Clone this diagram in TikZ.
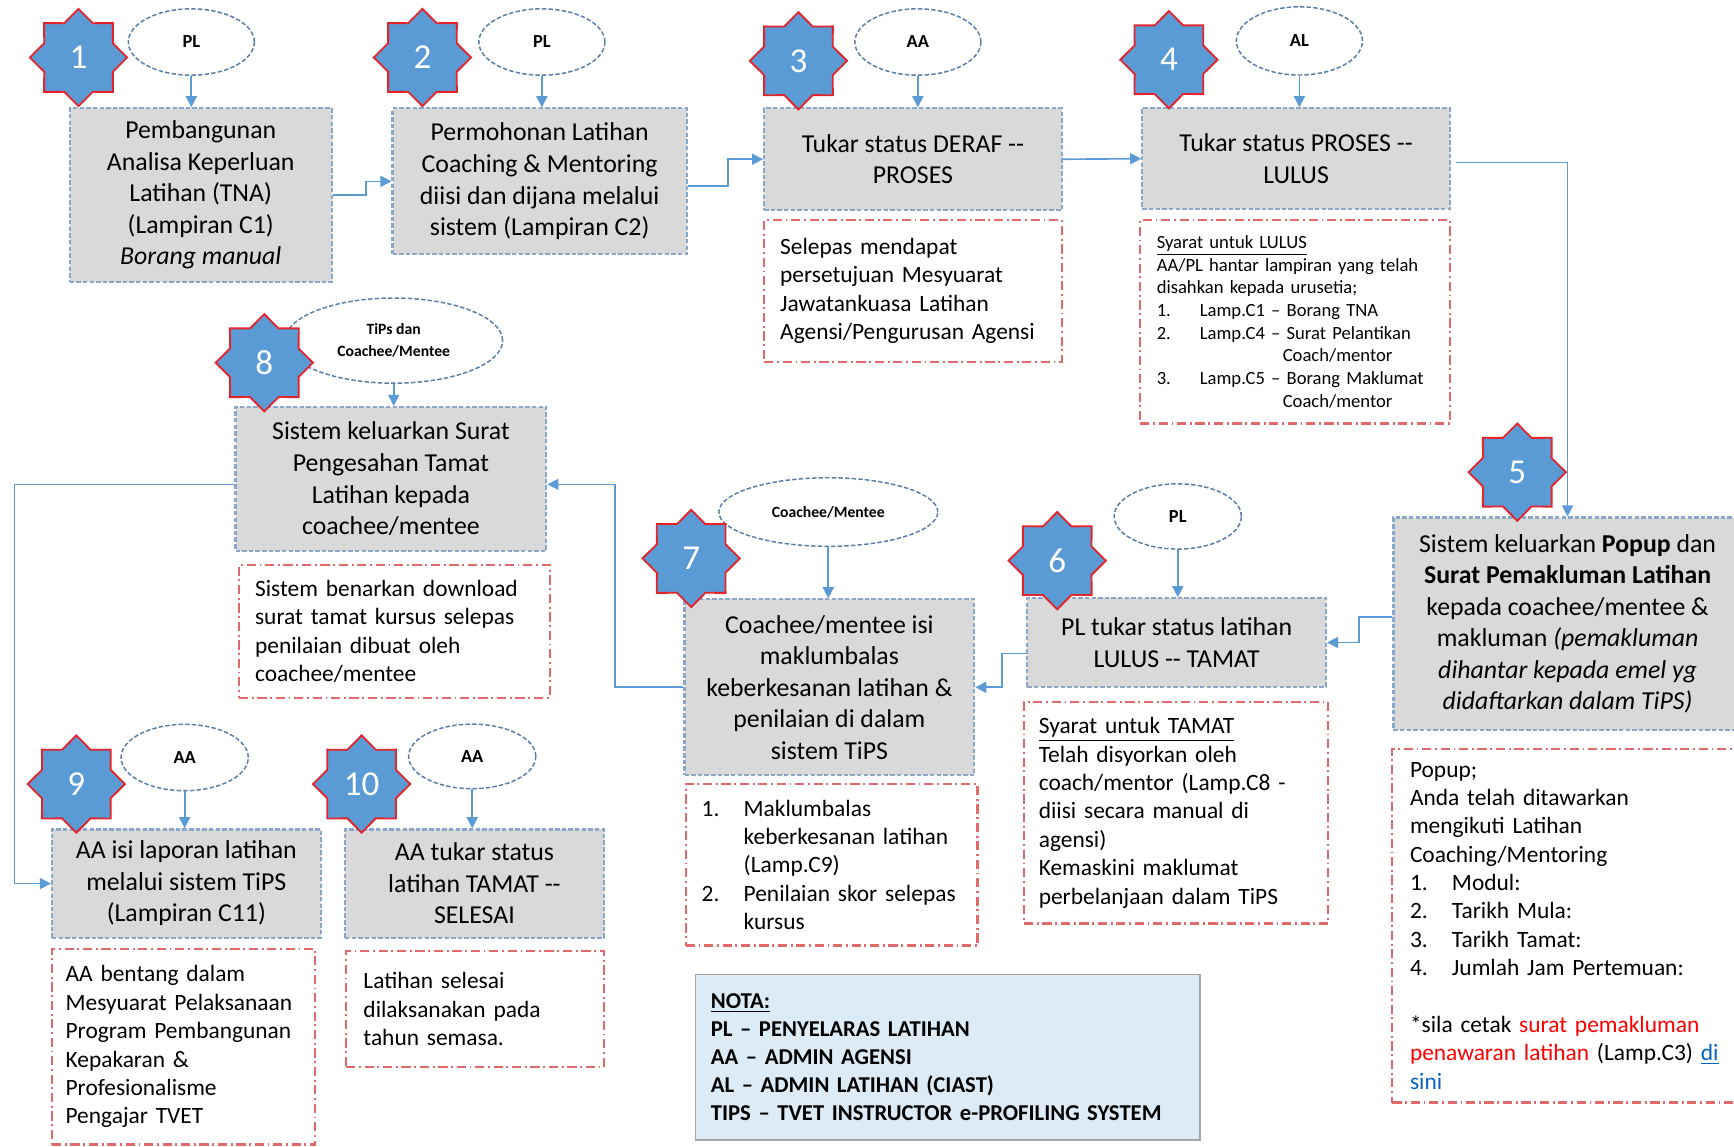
\documentclass[tikz,border=0pt]{standalone}
\usepackage{fontspec}
\setmainfont{Carlito}
\usetikzlibrary{shapes.geometric,arrows.meta}

\definecolor{stepblue}{HTML}{5B9BD5}
\definecolor{starred}{HTML}{E3242B}
\definecolor{boxgray}{HTML}{D9D9D9}
\definecolor{boxline}{HTML}{8AA6C8}
\definecolor{ellline}{HTML}{5A7DA8}
\definecolor{noteline}{HTML}{E06A6A}
\definecolor{linkblue}{HTML}{0563C1}
\definecolor{notafill}{HTML}{DDEBF7}
\definecolor{notaline}{HTML}{A5A5A5}

\newcommand{\boxfont}{\fontsize{14}{17.1}\selectfont}
\newcommand{\notefont}{\fontsize{12.7}{15.4}\selectfont}
\newcommand{\tinynotefont}{\fontsize{10.1}{12.3}\selectfont}
\newcommand{\whofont}{\fontsize{10}{12}\selectfont\bfseries}
\newcommand{\whosmallfont}{\fontsize{8.5}{12}\selectfont\bfseries}
\newcommand{\stepnumfont}{\fontsize{19}{22}\selectfont}
\newcommand{\notafont}{\fontsize{12.3}{15.3}\selectfont\bfseries}

\tikzset{
  mainbox/.style={draw=boxline, fill=boxgray, line width=1.2pt,
    dash pattern=on 2.4pt off 1.2pt, inner sep=0pt, align=center, font=\boxfont},
  notebox/.style={draw=noteline, fill=white, line width=1.2pt,
    dash pattern=on 5pt off 2pt on 1pt off 2pt, inner sep=0pt, align=left, font=\notefont},
  who/.style={ellipse, draw=ellline, fill=white, line width=0.8pt,
    dash pattern=on 2.4pt off 1.2pt, inner sep=0pt, font=\whofont},
  stepstar/.style={star, star points=8, star point ratio=1.31, minimum size=52.8pt,
    inner sep=0pt, fill=stepblue, draw=starred, line width=1pt, text=white, font=\stepnumfont},
  flow/.style={draw=stepblue, line width=0.9pt, -{Triangle[length=6pt,width=6pt]}},
}

\begin{document}
\begin{tikzpicture}
        [x=0.6pt,y=-0.6pt]
        \useasboundingbox (0,0) rectangle (1568,1037);
        \clip (0,0) rectangle (1568,1037);

        % langkah utama
        \node[mainbox, minimum width=142.2pt, minimum height=94.2pt] (b1) at (181.5,176.5)
          {Pembangunan\\ Analisa Keperluan\\ Latihan (TNA)\\ (Lampiran C1)\\ \textit{Borang manual}};
        \node[mainbox, minimum width=159.6pt, minimum height=79.2pt] (b2) at (488,164)
          {Permohonan Latihan\\ Coaching \& Mentoring\\ diisi dan dijana melalui\\ sistem (Lampiran C2)};
        \node[mainbox, minimum width=161.4pt, minimum height=55.2pt] (b3) at (825.5,144)
          {Tukar status DERAF -{}-\\ PROSES};
        \node[mainbox, minimum width=166.8pt, minimum height=54.6pt] (b4) at (1172,143.5)
          {Tukar status PROSES -{}-\\ LULUS};
        \node[mainbox, minimum width=189pt, minimum height=115.2pt] (b5) at (1417.5,564)
          {Sistem keluarkan \textbf{Popup} dan\\ \textbf{Surat Pemakluman Latihan}\\
           kepada coachee/mentee \&\\ makluman \textit{(pemakluman}\\
           \textit{dihantar kepada emel yg}\\ \textit{didaftarkan dalam TiPS)}};
        \node[mainbox, minimum width=162pt, minimum height=48pt] (b6) at (1064,581)
          {PL tukar status latihan\\ LULUS -{}- TAMAT};
        \node[mainbox, minimum width=157.2pt, minimum height=95.4pt] (b7) at (750,621.5)
          {Coachee/mentee isi\\ maklumbalas\\ keberkesanan latihan \&\\ penilaian di dalam\\ sistem TiPS};
        \node[mainbox, minimum width=168.6pt, minimum height=78pt] (b8) at (353.5,433)
          {Sistem keluarkan Surat\\ Pengesahan Tamat\\ Latihan kepada\\ coachee/mentee};
        \node[mainbox, minimum width=145.8pt, minimum height=58.8pt] (b9) at (168.5,799)
          {AA isi laporan latihan\\ melalui sistem TiPS\\ (Lampiran C11)};
        \node[mainbox, minimum width=140.4pt, minimum height=58.8pt] (b10) at (429,799)
          {AA tukar status\\ latihan TAMAT -{}-\\ SELESAI};

        % catatan
        \node[notebox, minimum width=161.4pt, minimum height=76.8pt, text width=144pt] (n3) at (825.5,263)
          {Selepas mendapat\\ persetujuan Mesyuarat\\ Jawatankuasa Latihan\\ Agensi/Pengurusan Agensi};
        \node[notebox, minimum width=168pt, minimum height=110.4pt, text width=150pt, font=\tinynotefont] (n4) at (1171,291)
          {\underline{Syarat untuk LULUS}\\
           AA/PL hantar lampiran yang telah\\
           disahkan kepada urusetia;\\
           \makebox[23.4pt][l]{1.}Lamp.C1 – Borang TNA\\
           \makebox[23.4pt][l]{2.}Lamp.C4 – Surat Pelantikan\\
           \hspace*{68.4pt}Coach/mentor\\
           \makebox[23.4pt][l]{3.}Lamp.C5 – Borang Maklumat\\
           \hspace*{68.4pt}Coach/mentor};
        \node[notebox, minimum width=189.6pt, minimum height=192pt, text width=170.4pt] (n5) at (1417,837)
          {Popup;\\ Anda telah ditawarkan\\ mengikuti Latihan\\ Coaching/Mentoring\\
           \makebox[22.8pt][l]{1.}Modul:\\
           \makebox[22.8pt][l]{2.}Tarikh Mula:\\
           \makebox[22.8pt][l]{3.}Tarikh Tamat:\\
           \makebox[22.8pt][l]{4.}Jumlah Jam Pertemuan:\\[15.3pt]
           *sila cetak \textcolor{red}{surat pemakluman}\\
           \textcolor{red}{penawaran latihan} (Lamp.C3) \textcolor{linkblue}{\underline{di}}\\
           \textcolor{linkblue}{sini}};
        \node[notebox, minimum width=165pt, minimum height=120pt, text width=149pt] (n6) at (1063.5,735)
          {\underline{Syarat untuk TAMAT}\\ Telah disyorkan oleh\\ coach/mentor (Lamp.C8 -\\
           diisi secara manual di\\ agensi)\\ Kemaskini maklumat\\ perbelanjaan dalam TiPS};
        \node[notebox, minimum width=158.4pt, minimum height=87.6pt, text width=141pt] (n7) at (752,782)
          {\makebox[22.8pt][l]{1.}Maklumbalas\\
           \hspace*{22.8pt}keberkesanan latihan\\
           \hspace*{22.8pt}(Lamp.C9)\\
           \makebox[22.8pt][l]{2.}Penilaian skor selepas\\
           \hspace*{22.8pt}kursus};
        \node[notebox, minimum width=168.6pt, minimum height=72pt, text width=151pt] (n8) at (356.5,571)
          {Sistem benarkan download\\ surat tamat kursus selepas\\ penilaian dibuat oleh\\ coachee/mentee};
        \node[notebox, minimum width=142.8pt, minimum height=106.2pt, text width=128pt] (n9) at (166,946.5)
          {AA bentang dalam\\ Mesyuarat Pelaksanaan\\ Program Pembangunan\\ Kepakaran \&\\
           Profesionalisme\\ Pengajar TVET};
        \node[notebox, minimum width=139.8pt, minimum height=63pt, text width=121pt] (n10) at (429.5,912.5)
          {Latihan selesai\\ dilaksanakan pada\\ tahun semasa.};

        % nota
        \node[draw=notaline, fill=notafill, line width=0.8pt, inner sep=0pt,
              minimum width=273.6pt, minimum height=90pt, align=left, text width=257pt,
              font=\notafont] (nota) at (857,956)
          {\underline{NOTA:}\\ PL – PENYELARAS LATIHAN\\ AA – ADMIN AGENSI\\
           AL – ADMIN LATIHAN (CIAST)\\ TIPS – TVET INSTRUCTOR e-PROFILING SYSTEM};

        % pelaku
        \node[who, minimum width=68.4pt, minimum height=36pt] (e1) at (173,38) {PL};
        \node[who, minimum width=68.4pt, minimum height=36pt] (e2) at (490,38) {PL};
        \node[who, minimum width=68.4pt, minimum height=36pt] (e3) at (830,38) {AA};
        \node[who, minimum width=68.4pt, minimum height=37pt] (e4) at (1175,37) {AL};
        \node[who, minimum width=69pt, minimum height=35.4pt] (e6) at (1065,467) {PL};
        \node[who, minimum width=118.8pt, minimum height=37.2pt, font=\whosmallfont] (e7) at (749,463) {Coachee/Mentee};
        \node[who, minimum width=118.2pt, minimum height=46.2pt, font=\whosmallfont, align=center] (e8) at (356,308)
          {TiPs dan\\ Coachee/Mentee};
        \node[who, minimum width=69pt, minimum height=36pt] (e9) at (167,685) {AA};
        \node[who, minimum width=69pt, minimum height=35pt] (e10) at (427,684) {AA};

        \foreach \w/\b in {e1/b1,e2/b2,e3/b3,e4/b4,e6/b6,e7/b7,e8/b8,e9/b9,e10/b10}
        {\draw[flow] (\w.south) -- (\w.south |- \b.north);}

        % aliran
        \draw[flow] (b1.east) -- ++(30,0) |- (b2.west);
        \draw[flow] ([yshift=-2.4pt]b2.east) -- ++(36,0) |- (b3.west);
        \draw[flow] (b3.east) -- (b4.west);
        \draw[flow] ([xshift=3pt,yshift=-2pt]b4.east) -| (b5.north);
        \draw[flow] ([yshift=3.6pt]b5.west) -- ++(-30,0) |- (b6.east);
        \draw[flow] ([yshift=-6pt]b6.west) -- ++(-22,0) |- (b7.east);
        \draw[flow] (b7.west) -- ++(-62,0) |- ([yshift=-3pt]b8.east);
        \draw[flow] ([yshift=-3pt]b8.west) -- ++(-199,0) |- (b9.west);

        % nombor langkah
        \foreach \n/\x/\y in {1/71/52,2/382/52,3/722/55,4/1057/54,5/1372/427,
                              6/956/507,7/625/505,8/239/328,9/69/709,10/327/709}
        {\node[stepstar] (s\n) at (\x,\y) {\n};}
      \end{tikzpicture}
\end{document}
